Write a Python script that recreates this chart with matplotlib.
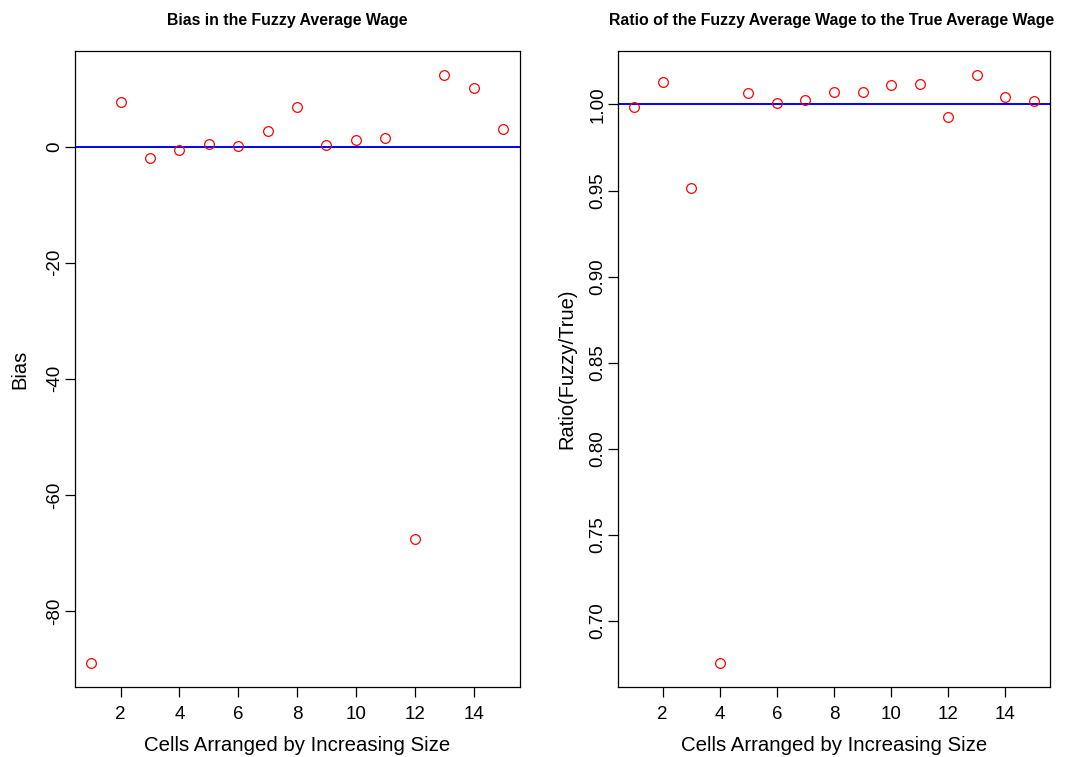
import matplotlib
matplotlib.use("Agg")
import matplotlib.pyplot as plt

plt.rcParams['font.family'] = ['Liberation Sans', 'DejaVu Sans']

cells = list(range(1, 16))
bias = [-89.0, 7.6, -1.95, -0.63, 0.52, 0.06, 2.76, 6.84, 0.23, 1.15, 1.55, -67.6, 12.4, 10.06, 3.05]
ratio = [0.9984, 1.0132, 0.9515, 0.6752, 1.0064, 1.0010, 1.0029, 1.0073, 1.0070,
         1.0114, 1.0118, 0.9926, 1.0174, 1.0044, 1.0019]

titles = ["Bias in the Fuzzy Average Wage",
          "Ratio of the Fuzzy Average Wage to the True Average Wage"]
ylabels = ["Bias", "Ratio(Fuzzy/True)"]
xlabel = "Cells Arranged by Increasing Size"
xticks = [2, 4, 6, 8, 10, 12, 14]
yticks_left = [0, -20, -40, -60, -80]
yticks_right = [1.00, 0.95, 0.90, 0.85, 0.80, 0.75, 0.70]
refs = [0, 1]

W, H = 1076, 757
fig = plt.figure(figsize=(W / 100, H / 100), dpi=100)

def add_ax(x0, x1, y0, y1):
    return fig.add_axes([x0 / W, 1 - y1 / H, (x1 - x0) / W, (y1 - y0) / H])

axL = add_ax(74.6, 519.5, 51, 687)
axR = add_ax(618, 1050, 51, 687)

def rlim(vals):
    lo, hi = min(vals), max(vals)
    d = (hi - lo) * 0.04
    return lo - d, hi + d

title_x = [287.5, 831.5]
ylabpad = [12, 9]

for i, (ax, y, yt, ref, title, ylab, fmt) in enumerate([
        (axL, bias, yticks_left, refs[0], titles[0], ylabels[0], "{:.0f}"),
        (axR, ratio, yticks_right, refs[1], titles[1], ylabels[1], "{:.2f}")]):
    ax.plot(cells, y, linestyle='none', marker='o', markersize=7,
            markerfacecolor='none', markeredgecolor='red', markeredgewidth=0.9, zorder=3)
    ax.axhline(ref, color='blue', linewidth=1.4, zorder=2)
    ax.set_xlim(*rlim(cells))
    ax.set_ylim(*rlim(y))
    ax.set_xticks(xticks)
    ax.set_xticklabels([str(t) for t in xticks], fontsize=13.5)
    ax.set_yticks(yt)
    ax.set_yticklabels([fmt.format(t) for t in yt], fontsize=13.5, rotation=90, va='center')
    ax.tick_params(direction='out', length=7, width=0.9)
    ax.tick_params(axis='x', pad=7)
    ax.tick_params(axis='y', pad=1.5)
    for s in ax.spines.values():
        s.set_linewidth(0.9)
        s.set_color('black')
    ax.set_xlabel(xlabel, fontsize=14.7, labelpad=9)
    ax.set_ylabel(ylab, fontsize=14.5, labelpad=ylabpad[i])
    fig.text(title_x[i] / W, 1 - 20 / H, title, fontsize=11.4, fontweight='bold',
             ha='center', va='center')

fig.savefig("out.png", dpi=100, facecolor='white')
